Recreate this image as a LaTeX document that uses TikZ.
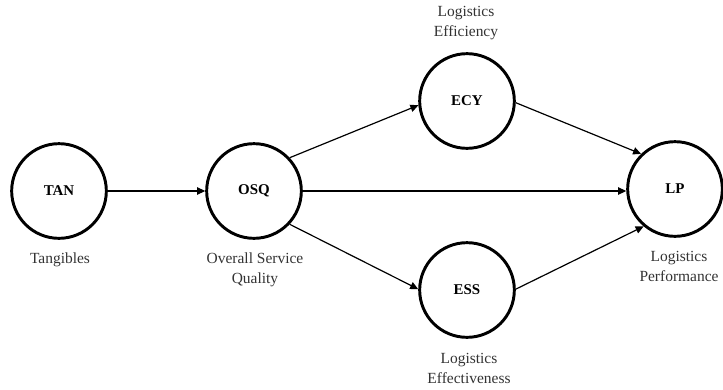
\documentclass[tikz,border=0pt]{standalone}
\usepackage{fontspec}
\setmainfont{Liberation Serif}
\usetikzlibrary{arrows.meta}
\begin{document}
\begin{tikzpicture}[x=0.75pt,y=-0.75pt,
  construct/.style={circle,draw=black,line width=2.2pt,minimum size=71pt,inner sep=0pt,
    font=\fontsize{11.2}{13}\selectfont\bfseries},
  lbl/.style={align=center,text=black!80,font=\fontsize{11.6}{15}\selectfont,inner sep=0pt},
  path/.style={draw=black,line width=0.9pt,-{Triangle[length=6pt,width=5.5pt]}}]
\useasboundingbox (0,0) rectangle (723,389);
\node[construct] (tan) at (59,191) {TAN};
\node[construct] (osq) at (254,191) {OSQ};
\node[construct] (ecy) at (467,101) {ECY};
\node[construct] (ess) at (467,290) {ESS};
\node[construct] (lp)  at (675,189) {LP};
\node[lbl] (tanl) at (60,260) {Tangibles};
\node[lbl] (osql) at (255,269.5) {Overall Service\\Quality};
\node[lbl] (ecyl) at (466,23) {Logistics\\Efficiency};
\node[lbl] (essl) at (469,368) {Logistics\\Effectiveness};
\node[lbl] (lpl)  at (679,266.5) {Logistics\\Performance};
\draw[path] (tan) -- (osq);
\draw[path] (osq.east) -- (lp.west |- osq.east);
\draw[path] (osq.43) -- (ecy.185);
\draw[path] (osq.-43) -- (ess.179);
\draw[path] (ecy.-2) -- (lp.134);
\draw[path] (ess.1) -- (lp.230);
\end{tikzpicture}
\end{document}
